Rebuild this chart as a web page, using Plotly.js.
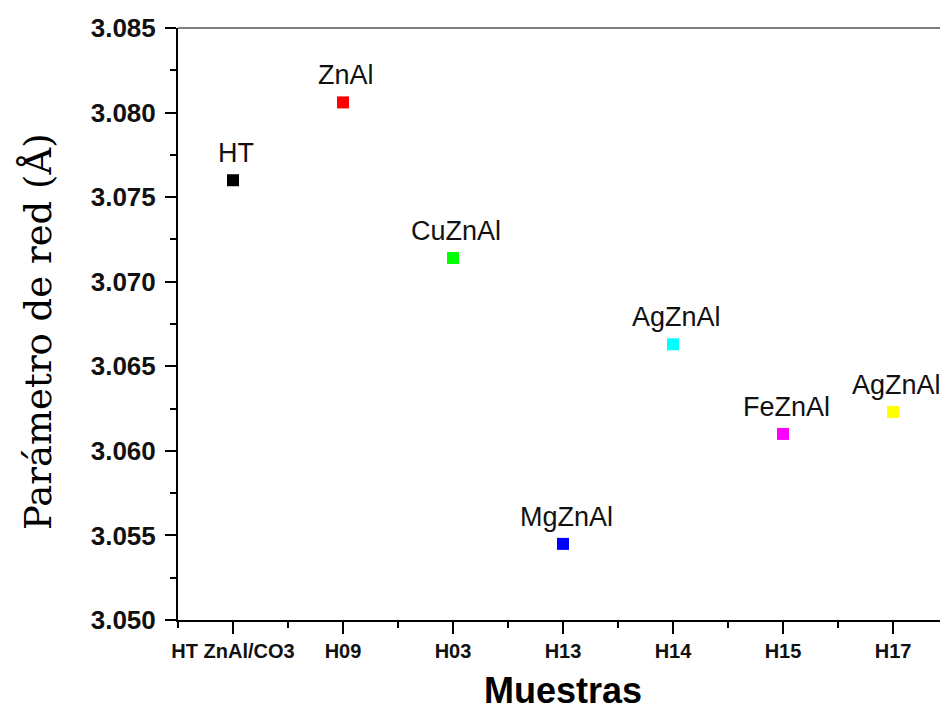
<!DOCTYPE html>
<html>
<head>
<meta charset="utf-8">
<script src="https://cdn.plot.ly/plotly-3.0.1.min.js"></script>
<style>
  html, body { margin: 0; padding: 0; background: #fff; overflow: hidden; }
  #chart { width: 940px; height: 712px; }
</style>
</head>
<body>
<div id="chart"></div>
<script>
// Sample codes along the x axis
const samples = ['HT ZnAl/CO3', 'H09', 'H03', 'H13', 'H14', 'H15', 'H17'];
// Lattice parameter a (Å) for each sample
const latticeA = [3.0760, 3.0806, 3.0714, 3.0545, 3.0663, 3.0610, 3.0623];
// Composition label shown above each point
const pointLabels = ['HT', 'ZnAl', 'CuZnAl', 'MgZnAl', 'AgZnAl', 'FeZnAl', 'AgZnAl'];
// Marker colour per sample
const markerColors = ['#000000', '#ff0000', '#00ff00', '#0000ff', '#00ffff', '#ff00ff', '#ffff00'];

const xPos = samples.map((_, i) => i + 1);

const trace = {
  type: 'scatter',
  mode: 'markers',
  x: xPos,
  y: latticeA,
  marker: { symbol: 'square', size: 12, color: markerColors, line: { width: 0 } },
  cliponaxis: false,
  hoverinfo: 'x+y'
};

const axisFont = 'Liberation Sans, Arial, sans-serif';

// Composition labels sitting just above each marker
const labelAnnotations = pointLabels.map((t, i) => ({
  x: xPos[i],
  y: latticeA[i],
  xref: 'x',
  yref: 'y',
  text: t,
  showarrow: false,
  xanchor: 'center',
  yanchor: 'bottom',
  xshift: 3,
  yshift: 10,
  font: { family: axisFont, size: 27, color: '#111' }
}));

// Vertical y-axis title
const yTitle = {
  xref: 'paper',
  yref: 'paper',
  x: 0,
  y: 0.5,
  xanchor: 'center',
  yanchor: 'middle',
  xshift: -140,
  yshift: -8,
  textangle: -90,
  showarrow: false,
  text: 'Parámetro de red (Å)',
  font: { family: 'DejaVu Serif, Liberation Serif, serif', size: 37, color: '#000' }
};

// x-axis title below the tick labels
const xTitle = {
  xref: 'paper',
  yref: 'paper',
  x: 0.5,
  y: 0,
  xanchor: 'center',
  yanchor: 'bottom',
  xshift: 4,
  yshift: -93,
  showarrow: false,
  text: 'Muestras',
  font: { family: axisFont, size: 36, weight: 'bold', color: '#000' }
};

const layout = {
  width: 940,
  height: 712,
  margin: { l: 178, r: 0, t: 28, b: 92 },
  paper_bgcolor: '#ffffff',
  plot_bgcolor: '#ffffff',
  showlegend: false,
  xaxis: {
    range: [0.5, 7.427],
    tickmode: 'array',
    tickvals: xPos,
    ticktext: samples,
    showgrid: false,
    zeroline: false,
    showline: true,
    linecolor: '#000',
    linewidth: 2,
    ticks: 'outside',
    ticklen: 12,
    tickwidth: 2,
    tickcolor: '#000',
    minor: { dtick: 0.5, tick0: 0.5, ticks: 'outside', ticklen: 6, tickwidth: 2, tickcolor: '#000', showgrid: false },
    tickfont: { family: axisFont, size: 20, weight: 'bold', color: '#111' }
  },
  yaxis: {
    range: [3.05, 3.085],
    tickmode: 'linear',
    tick0: 3.05,
    dtick: 0.005,
    tickformat: '.3f',
    showgrid: false,
    zeroline: false,
    showline: true,
    linecolor: '#000',
    linewidth: 2,
    ticks: 'outside',
    ticklen: 11,
    tickwidth: 2,
    tickcolor: '#000',
    minor: { dtick: 0.0025, tick0: 3.05, ticks: 'outside', ticklen: 6, tickwidth: 2, tickcolor: '#000', showgrid: false },
    tickfont: { family: axisFont, size: 26, weight: 'bold', color: '#111' },
    ticklabelstandoff: 4
  },
  annotations: [yTitle, xTitle].concat(labelAnnotations),
  shapes: [
    // thin frame line along the top of the plotting area
    { type: 'line', xref: 'paper', yref: 'paper', x0: 0, x1: 1, y0: 1, y1: 1, line: { color: '#000', width: 1 } }
  ]
};

Plotly.newPlot('chart', [trace], layout, { displayModeBar: false, staticPlot: true });
</script>
</body>
</html>
